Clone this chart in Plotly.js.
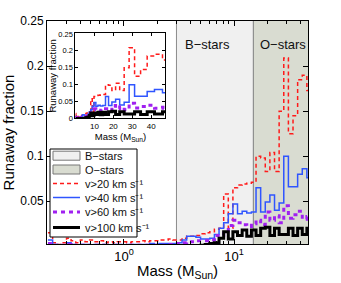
<!DOCTYPE html>
<html><head><meta charset="utf-8">
<script src="https://cdn.plot.ly/plotly-3.0.1.min.js"></script>
<style>html,body{margin:0;padding:0;background:#fff}#chart{width:341px;height:283px}</style>
</head><body><div id="chart"></div>
<script>
// Bin edges (solar masses), log-spaced histogram bins
const binEdges = [0.204,0.225,0.248,0.273,0.301,0.331,0.365,0.402,0.443,0.488,0.537,0.592,0.652,0.718,0.791,0.871,0.959,1.057,1.164,1.282,1.413,1.556,1.714,1.888,2.080,2.291,2.523,2.780,3.062,3.373,3.715,4.093,4.508,4.966,5.470,6.026,6.637,7.311,8.054,8.872,9.772,10.76,11.86,13.06,14.39,15.85,17.46,19.23,21.18,23.33,25.70,28.31,31.19,34.36,37.84,41.69,45.92,50.58];

const fracV20 = [0.015,0.004,0.002,0.004,0.009,0.006,0.004,0.007,0.005,0.007,0.005,0.006,0.004,0.005,0.004,0.005,0.005,0.004,0.005,0.005,0.006,0.005,0.006,0.006,0.007,0.007,0.008,0.007,0.007,0.009,0.011,0.011,0.012,0.014,0.015,0.016,0.019,0.020,0.058,0.020,0.065,0.068,0.069,0.070,0.071,0.100,0.098,0.083,0.104,0.083,0.150,0.209,0.125,0.145,0.185,0.190,0.173];
const fracV40 = [0.007,0.002,0.001,0.001,0.004,0.002,0.001,0.002,0.002,0.001,0.002,0.001,0.002,0.001,0.002,0.002,0.001,0.002,0.002,0.002,0.002,0.002,0.003,0.002,0.003,0.003,0.003,0.003,0.004,0.007,0.011,0.011,0.010,0.008,0.008,0.009,0.013,0.020,0.026,0.036,0.047,0.036,0.039,0.037,0.038,0.065,0.038,0.049,0.057,0.040,0.048,0.100,0.066,0.066,0.080,0.086,0.076];
const fracV60 = [0.003,0.001,0.000,0.001,0.002,0.001,0.000,0.001,0.001,0.000,0.001,0.000,0.001,0.000,0.001,0.001,0.000,0.001,0.001,0.001,0.001,0.001,0.001,0.001,0.001,0.001,0.002,0.002,0.003,0.004,0.005,0.005,0.006,0.006,0.006,0.007,0.012,0.012,0.017,0.023,0.029,0.026,0.024,0.022,0.025,0.029,0.024,0.038,0.029,0.034,0.026,0.045,0.031,0.035,0.039,0.030,0.033];
const fracV100 = [0,0,0,0,0,0,0,0,0,0,0,0,0,0,0,0,0,0,0,0,0,0,0,0,0,0,0,0,0,0,0,0,0,0.001,0.002,0.003,0.004,0.009,0.016,0.008,0.016,0.012,0.018,0.011,0.018,0.012,0.020,0.021,0.012,0.020,0.013,0.013,0.020,0.012,0.020,0.013,0.020];

const seriesNames = ['v>20 km s⁻¹','v>40 km s⁻¹','v>60 km s⁻¹','v>100 km s⁻¹'];
const seriesData = [fracV20, fracV40, fracV60, fracV100];
const seriesColors = ['#ff1a1a','#2f55ff','#a020f0','#000000'];
const seriesWidths = [1.5, 1.5, 3, 3];
const seriesDash = ['4px,3px','solid','4px,4px','solid'];

const bStarRange = [3, 15];
const oStarRange = [15, 50];
const regionNames = ['B−stars','O−stars'];
const regionColors = ['#f0f0f0','#d9dcd1'];

function stepY(v){ return v.concat([v[v.length-1]]); }

const traces = [];
[bStarRange, oStarRange].forEach((r,i)=>{
  traces.push({
    x:[r[0],r[0],r[1],r[1],r[0]], y:[0,0.3,0.3,0,0],
    type:'scatter', mode:'lines', fill:'toself', fillcolor:regionColors[i],
    line:{color:'#8a8a8a', width:1}, name:regionNames[i], hoverinfo:'skip',
    xaxis:'x', yaxis:'y'
  });
});
seriesData.forEach((d,i)=>{
  traces.push({
    x:binEdges, y:stepY(d), type:'scatter', mode:'lines',
    line:{shape:'hv', color:seriesColors[i], width:seriesWidths[i], dash:seriesDash[i]},
    name:seriesNames[i], xaxis:'x', yaxis:'y'
  });
});
seriesData.forEach((d,i)=>{
  traces.push({
    x:binEdges, y:stepY(d), type:'scatter', mode:'lines',
    line:{shape:'hv', color:seriesColors[i], width:seriesWidths[i], dash:seriesDash[i]},
    showlegend:false, xaxis:'x2', yaxis:'y2'
  });
});

// Compact legend drawn with shapes + annotations (pixel layout -> paper coords)
const W=341, H=283, ML=47, MR=33, MT=21, MB=39;
const PW = W-ML-MR, PH = H-MT-MB;
const PX = p => (p-ML)/PW;
const PY = p => 1-(p-MT)/PH;
const legRows = [155.7, 169.5, 183.5, 197.5, 212, 227.5];
const shapes = [
  {type:'rect', xref:'paper', yref:'paper', x0:PX(50), x1:PX(137), y0:PY(237), y1:PY(149),
   fillcolor:'#ffffff', line:{color:'#000', width:1}, layer:'above'}
];
const annotations = [];
regionNames.forEach((n,i)=>{
  const yc = legRows[i];
  shapes.push({type:'rect', xref:'paper', yref:'paper', x0:PX(53), x1:PX(80), y0:PY(yc+4.5), y1:PY(yc-4.5),
    fillcolor:regionColors[i], line:{color:'#777', width:1}, layer:'above'});
  annotations.push({x:PX(82.5), y:PY(yc), xref:'paper', yref:'paper', xanchor:'left', yanchor:'middle',
    text:n, showarrow:false, font:{size:11, color:'#111'}});
});
seriesNames.forEach((n,i)=>{
  const yc = legRows[i+2];
  shapes.push({type:'line', xref:'paper', yref:'paper', x0:PX(53), x1:PX(80), y0:PY(yc), y1:PY(yc),
    line:{color:seriesColors[i], width:seriesWidths[i], dash:seriesDash[i]}, layer:'above'});
  annotations.push({x:PX(82.5), y:PY(yc), xref:'paper', yref:'paper', xanchor:'left', yanchor:'middle',
    text:n, showarrow:false, font:{size:11, color:'#111'}});
});
annotations.push({x:0.755, y:0.937, xref:'x', yref:'paper', text:'B−stars', showarrow:false, font:{size:13, color:'#111'}});
annotations.push({x:1.445, y:0.937, xref:'x', yref:'paper', text:'O−stars', showarrow:false, font:{size:13, color:'#111'}});

const font = 'Liberation Sans, Arial, Helvetica, sans-serif';
const layout = {
  width:W, height:H,
  margin:{l:ML, r:MR, t:MT, b:MB},
  paper_bgcolor:'#ffffff', plot_bgcolor:'#ffffff',
  font:{family:font, color:'#000'},
  showlegend:false,
  xaxis:{type:'log', range:[Math.log10(0.2), Math.log10(47)],
         tickmode:'array', tickvals:[1,10], ticktext:['10<sup>0</sup>','10<sup>1</sup>'],
         ticks:'inside', ticklen:5, tickcolor:'#000', showline:true, linecolor:'#000', linewidth:1,
         mirror:'ticks', showgrid:false, zeroline:false, tickfont:{size:13},
         minor:{tickmode:'array', tickvals:[0.3,0.4,0.5,0.6,0.7,0.8,0.9,2,3,4,5,6,7,8,9,20,30,40], ticks:'inside', ticklen:3, tickcolor:'#000', showgrid:false},
         title:{text:'Mass (M<sub>Sun</sub>)', font:{size:15}, standoff:2}},
  yaxis:{range:[0.0025,0.2501], tickmode:'linear', tick0:0, dtick:0.05,
         ticks:'inside', ticklen:5, tickcolor:'#000', showline:true, linecolor:'#000', linewidth:1,
         mirror:'ticks', showgrid:false, zeroline:false, tickfont:{size:12},
         title:{text:'Runaway fraction', font:{size:15}, standoff:5}},
  xaxis2:{domain:[0.109,0.454], anchor:'y2', range:[0,47.5],
          tickmode:'array', tickvals:[10,20,30,40],
          ticks:'inside', ticklen:3, tickcolor:'#000', showline:true, linecolor:'#000', linewidth:1,
          mirror:'ticks', showgrid:false, zeroline:false, tickfont:{size:8},
          title:{text:'Mass (M<sub>Sun</sub>)', font:{size:9.5}, standoff:0}},
  yaxis2:{domain:[0.563,0.945], anchor:'x2', range:[0,0.252],
          tickmode:'array', tickvals:[0,0.05,0.1,0.15,0.2,0.25], ticktext:['0','0.05','0.1','0.15','0.2','0.25'],
          ticks:'inside', ticklen:3, tickcolor:'#000', showline:true, linecolor:'#000', linewidth:1,
          mirror:'ticks', showgrid:false, zeroline:false, tickfont:{size:7.5},
          title:{text:'Runaway fraction', font:{size:9.5}, standoff:0}},
  shapes:shapes,
  annotations:annotations
};
Plotly.newPlot('chart', traces, layout, {staticPlot:true, displayModeBar:false});
</script></body></html>
